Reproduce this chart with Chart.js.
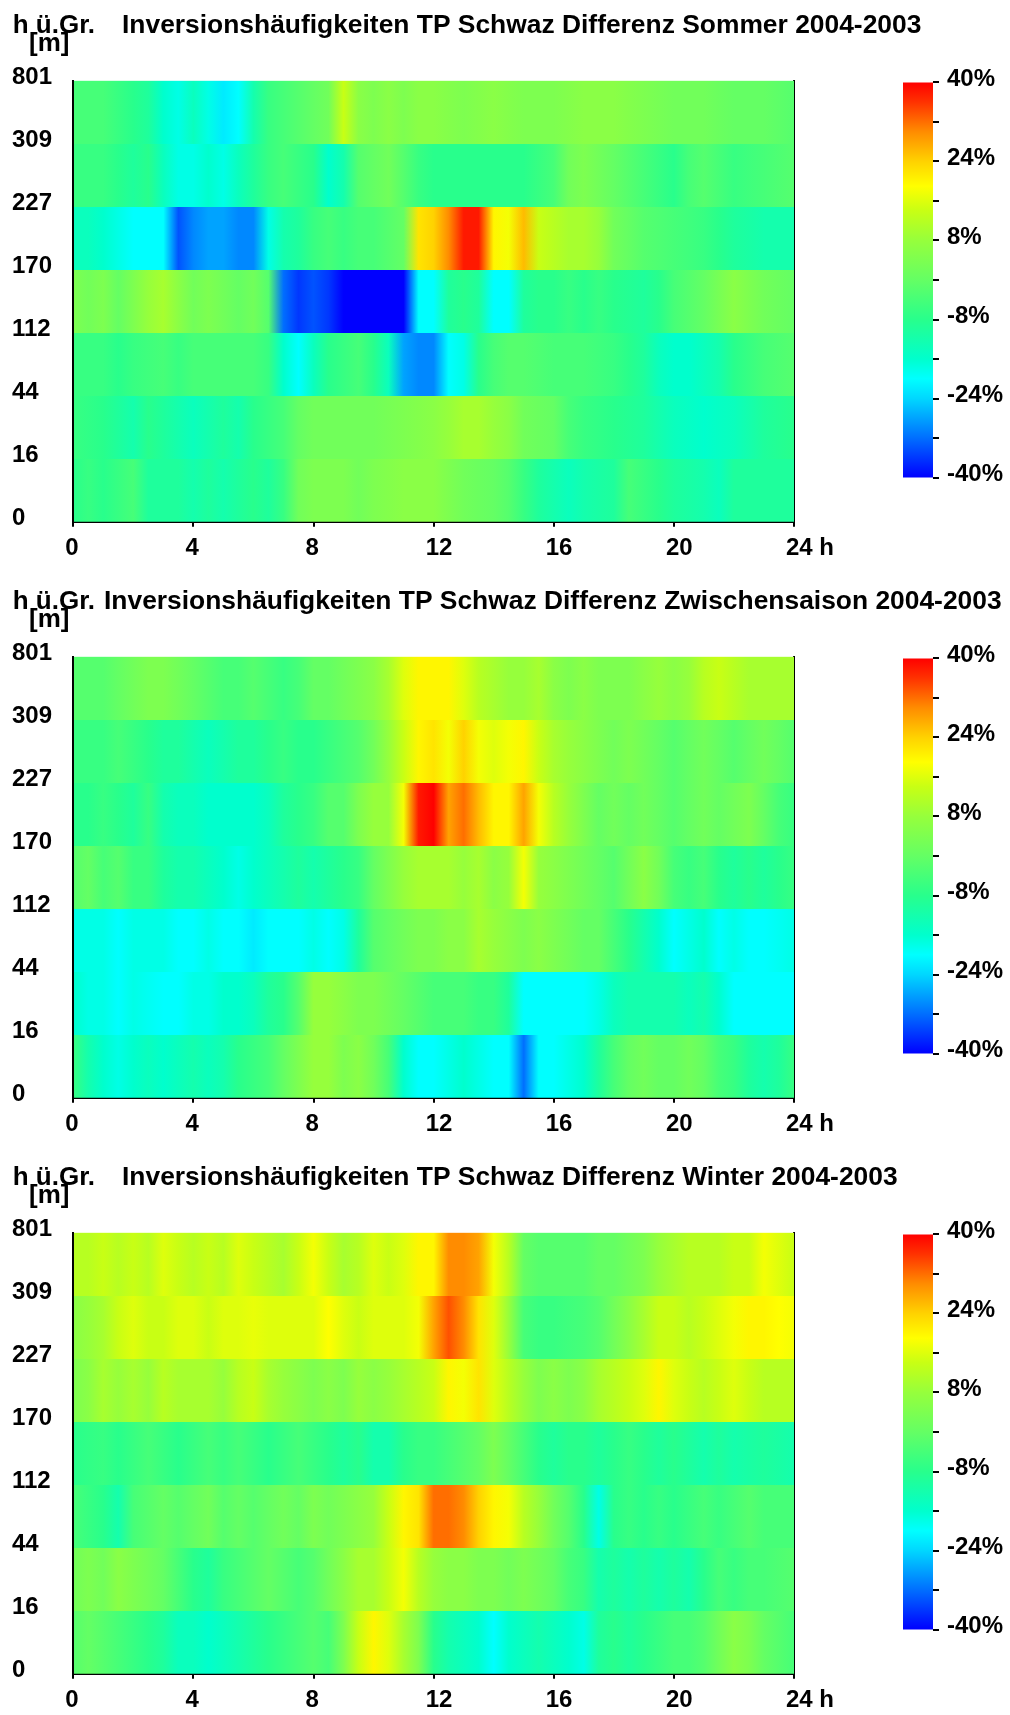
<!DOCTYPE html>
<html><head><meta charset="utf-8">
<script src="https://cdn.jsdelivr.net/npm/chart.js@4.4.1/dist/chart.umd.min.js"></script>
<style>
html,body{margin:0;padding:0;background:#fff;overflow:hidden;width:1010px;height:1715px;position:relative;}
.panel{position:absolute;left:0;width:1010px;height:576px;}
.panel canvas{position:absolute;}
</style></head><body>
<div class="panel" style="top:0px"><canvas id="h0" width="1010" height="576" style="left:0;top:0"></canvas><canvas id="c0" width="130" height="440" style="left:880px;top:60px"></canvas></div>
<div class="panel" style="top:576px"><canvas id="h1" width="1010" height="576" style="left:0;top:0"></canvas><canvas id="c1" width="130" height="440" style="left:880px;top:60px"></canvas></div>
<div class="panel" style="top:1152px"><canvas id="h2" width="1010" height="576" style="left:0;top:0"></canvas><canvas id="c2" width="130" height="440" style="left:880px;top:60px"></canvas></div>
<script>
// ---- time axis (hours) ----
const hours = [0,0.5,1,1.5,2,2.5,3,3.5,4,4.5,5,5.5,6,6.5,7,7.5,8,8.5,9,9.5,10,10.5,11,11.5,12,12.5,13,13.5,14,14.5,15,15.5,16,16.5,17,17.5,18,18.5,19,19.5,20,20.5,21,21.5,22,22.5,23,23.5,24];
// ---- height levels (tick labels) ----
const heightLabels = ['0','16','44','112','170','227','309','801'];
const scaleTicks = [40,24,8,-8,-24,-40];
const titles = ['Inversionshäufigkeiten TP Schwaz Differenz Sommer 2004-2003','Inversionshäufigkeiten TP Schwaz Differenz Zwischensaison 2004-2003','Inversionshäufigkeiten TP Schwaz Differenz Winter 2004-2003'];
const unitTop = 'h ü.Gr.';
const unitBottom = '[m]';

// ---- Sommer: difference in % per height band (0-16 ... 309-801) ----
const sommerH0 = [-8,-6,-8,-6,-4,-10,-10,-10,-12,-10, -12,-10,-8,-10,-6,2,4,4,4,2, 4,5,6,6,6,4,2,1,0,-2, -6,-10,-12,-14,-12,-11,-10,-4,-6,-8, -10,-11,-12,-14,-10,-10,-10,-10,-10];
const sommerH1 = [-6,-7,-8,-10,-12,-8,-10,-12,-14,-12, -10,-12,-8,-6,-4,0,2,2,2,2, 2,3,4,5,6,8,10,10,8,6, 2,1,0,-4,-6,-7,-8,-9,-10,-12, -14,-15,-16,-15,-14,-12,-10,-9,-8];
const sommerH2 = [-6,-6,-6,-8,-6,-5,-4,-6,-4,-4, -4,-4,-4,-6,-16,-20,-14,-8,-6,-4, -8,-14,-28,-30,-30,-20,-18,-8,-4,-2, -2,-3,-4,-4,-4,-5,-6,-8,-10,-14, -16,-16,-14,-12,-8,-6,-4,-3,-2];
const sommerH3 = [4,2,4,0,4,8,10,6,2,4, 2,0,2,-2,-32,-36,-34,-36,-40,-40, -40,-40,-40,-20,-20,-10,-8,-10,-20,-20, -10,-8,-8,-6,-8,-6,-8,-9,-10,-8, -4,-2,0,3,6,4,2,1,0];
const sommerH4 = [-14,-14,-16,-18,-20,-20,-20,-34,-30,-28, -28,-30,-30,-18,-12,-10,-6,-4,-6,-4, -4,-2,0,22,24,30,38,38,20,18, 26,14,12,10,10,8,2,0,-2,-3, -4,-5,-6,-8,-10,-11,-12,-12,-12];
const sommerH5 = [-6,-6,-6,-8,-10,-8,-14,-18,-18,-16, -18,-14,-10,-6,-4,-6,-8,-16,-12,-2, 0,2,-2,-6,-8,-8,-8,-8,-8,-8, -8,-6,-4,2,4,2,0,-2,-4,-6, -8,-4,-2,-4,-6,-5,-4,-3,-2];
const sommerH6 = [-4,-4,-4,-6,-8,-10,-16,-18,-14,-18, -22,-20,-12,-6,-4,-2,0,2,14,6, 4,6,4,6,6,5,4,5,6,5, 4,4,4,5,6,6,6,5,4,3, 2,2,2,1,0,0,0,-1,-2];

// ---- Zwischensaison ----
const zwischenH0 = [-6,-12,-16,-18,-16,-14,-16,-14,-12,-14, -12,-8,-6,-4,0,4,8,8,4,6, 2,-4,-16,-20,-20,-18,-16,-18,-20,-20, -32,-20,-20,-18,-16,-10,-4,0,2,0, 0,2,0,-4,-6,-10,-12,-10,-6];
const zwischenH1 = [-16,-18,-18,-20,-18,-19,-20,-20,-18,-18, -16,-16,-14,-10,-8,-2,8,8,6,4, 4,2,0,-2,-4,-4,-4,-6,-6,-10, -20,-20,-20,-20,-20,-18,-14,-12,-12,-12, -12,-14,-12,-16,-20,-20,-20,-20,-20];
const zwischenH2 = [-18,-18,-18,-20,-18,-18,-18,-20,-20,-18, -20,-20,-22,-20,-20,-20,-18,-20,-18,-10, -2,0,2,4,4,6,6,10,8,6, 4,6,4,2,0,0,-4,-8,-12,-16, -20,-18,-16,-20,-18,-20,-20,-19,-18];
const zwischenH3 = [-2,0,-4,-2,-6,-6,-10,-12,-12,-14, -16,-18,-16,-14,-12,-10,-12,-10,-8,-6, 0,4,8,10,10,10,8,10,6,8, 18,8,6,4,2,0,-2,2,6,2, -4,-6,-4,-8,-10,-8,-10,-8,-6];
const zwischenH4 = [-8,-8,-6,-8,-10,-6,-12,-14,-14,-16, -16,-16,-16,-14,-10,-8,-6,-2,-2,4, 8,8,18,38,40,28,32,26,20,20, 28,18,12,8,4,0,2,0,2,0, -2,0,2,0,2,4,0,-4,-6];
const zwischenH5 = [-6,-6,-6,-4,-6,-8,-10,-10,-12,-14, -12,-10,-10,-8,-6,-8,-8,-6,-4,-2, 2,8,14,20,22,18,24,18,16,18, 20,14,10,8,6,4,2,4,2,0, -2,0,2,0,-2,0,2,0,-2];
const zwischenH6 = [-2,-2,-2,0,2,4,4,2,0,-2, -4,-4,-2,-4,-6,-4,0,0,2,4, 6,10,16,20,20,20,16,12,10,8, 8,10,6,4,6,4,4,4,6,8, 6,8,12,14,12,10,10,10,10];

// ---- Winter ----
const winterH0 = [-2,0,-2,-4,-6,-8,-10,-14,-14,-16, -14,-12,-10,-8,-6,-4,-2,-4,4,14, 20,16,10,4,-8,-12,-14,-16,-20,-16, -14,-12,-14,-16,-18,-10,-8,-10,-8,-6, -4,-4,-2,2,6,4,0,-2,-4];
const winterH1 = [2,4,2,6,4,2,0,-4,-8,-10, -6,-4,-2,0,-2,-4,-2,2,6,10, 10,14,18,12,8,6,6,4,4,2, 4,2,0,-4,-6,-12,-10,-12,-10,-12, -10,-12,-8,-4,-6,-4,-4,-3,-2];
const winterH2 = [-4,-6,-8,-12,-4,-2,0,-2,0,2, -2,0,-2,0,2,0,4,2,4,6, 8,14,20,22,32,32,30,24,20,18, 12,8,2,-2,-8,-18,-8,-6,-8,-6, -8,-6,-4,-6,-4,-2,-4,-4,-4];
const winterH3 = [-8,-7,-6,-8,-6,-4,-6,-8,-6,-4, -6,-4,-6,-8,-6,-4,-6,-8,-10,-8, -12,-12,-8,-6,-6,-4,-2,0,4,0, -4,-8,-10,-8,-8,-10,-8,-6,-8,-10, -8,-10,-12,-10,-12,-11,-10,-11,-12];
const winterH4 = [4,6,10,8,10,8,12,10,10,10, 8,12,14,10,8,6,4,6,4,8, 6,8,10,12,14,20,18,22,16,12, 8,4,6,4,6,10,12,14,16,20, 16,14,12,14,16,14,12,12,12];
const winterH5 = [6,8,10,14,16,14,14,16,16,14, 16,16,17,16,16,16,16,19,16,14, 16,16,16,18,28,34,30,22,16,8, -4,-6,-6,-5,-4,-2,2,6,10,14, 14,12,14,16,18,20,20,19,18];
const winterH6 = [12,12,14,12,14,12,16,14,12,14, 12,16,14,12,10,14,18,14,10,12, 16,14,16,20,20,30,30,28,18,12, 0,-2,-2,-2,-2,0,0,2,4,8, 10,12,12,12,14,14,18,16,14];

const sommerRows = [sommerH0,sommerH1,sommerH2,sommerH3,sommerH4,sommerH5,sommerH6];
const zwischenRows = [zwischenH0,zwischenH1,zwischenH2,zwischenH3,zwischenH4,zwischenH5,zwischenH6];
const winterRows = [winterH0,winterH1,winterH2,winterH3,winterH4,winterH5,winterH6];

// ---- styles ----
const FONT = "'Liberation Sans', Arial, sans-serif";
const INK = '#000';
const colorStops = [
  [-40,[0,0,255]],[-32,[0,110,255]],[-24,[0,215,255]],[-20,[0,255,255]],[-16,[0,255,205]],
  [-8,[40,255,140]],[0,[100,255,100]],[8,[150,255,60]],[14,[200,255,20]],[19,[255,255,0]],
  [24,[255,210,0]],[30,[255,140,0]],[36,[255,50,0]],[40,[255,0,0]]
];
function colorFor(v){
  if (v <= colorStops[0][0]) return 'rgb('+colorStops[0][1].join(',')+')';
  for (let i=1;i<colorStops.length;i++){
    const [v1,c1] = colorStops[i];
    if (v <= v1){
      const [v0,c0] = colorStops[i-1];
      const f = (v-v0)/(v1-v0);
      const c = c0.map((a,k)=>Math.round(a+(c1[k]-a)*f));
      return 'rgb('+c.join(',')+')';
    }
  }
  return 'rgb('+colorStops[colorStops.length-1][1].join(',')+')';
}
function rowGradient(ctx, values){
  const chart = ctx.chart;
  if (!chart.chartArea) return colorFor(0);
  const xs = chart.scales.x;
  const x0 = xs.getPixelForValue(hours[0]);
  const x1 = xs.getPixelForValue(hours[hours.length-1]);
  const g = chart.ctx.createLinearGradient(x0,0,x1,0);
  hours.forEach((h,i)=>{
    const p = (xs.getPixelForValue(h)-x0)/(x1-x0);
    g.addColorStop(Math.min(1,Math.max(0,p)), colorFor(values[i]));
  });
  return g;
}
function barGradient(ctx){
  const chart = ctx.chart;
  if (!chart.chartArea) return colorFor(0);
  const ys = chart.scales.y;
  const y0 = ys.getPixelForValue(ys.min), y1 = ys.getPixelForValue(ys.max);
  const g = chart.ctx.createLinearGradient(0,y0,0,y1);
  colorStops.forEach(([v,c])=>{
    g.addColorStop((ys.getPixelForValue(v)-y0)/(y1-y0), 'rgb('+c.join(',')+')');
  });
  return g;
}
const headerPlugin = {
  id: 'header',
  afterDraw(chart, args, opts){
    const c = chart.ctx;
    c.save();
    c.fillStyle = INK;
    c.textAlign = 'left';
    c.textBaseline = 'alphabetic';
    c.font = 'bold 26.4px ' + FONT;
    c.fillText(opts.title, opts.titleX, 33);
    c.font = 'bold 26px ' + FONT;
    c.fillText(unitTop, 12.7, 33);
    c.fillText(unitBottom, 29, 51);
    c.restore();
  }
};
const tickFont = {family: FONT, size: 24, weight: 'bold'};

function heatChart(id, rows, title, titleX){
  return new Chart(document.getElementById(id), {
    type: 'bar',
    data: { datasets: [{
      data: rows.map((r,i)=>({y: i+0.5, x: [hours[0], hours[hours.length-1]]})),
      backgroundColor: (ctx)=>rowGradient(ctx, rows[ctx.dataIndex]),
      borderWidth: 0, barPercentage: 1, categoryPercentage: 1,
      xAxisID: 'x', yAxisID: 'y'
    }]},
    options: {
      indexAxis: 'y', responsive: false, animation: false,
      events: [],
      layout: { padding: { left: 12, top: 80.7, right: 216, bottom: 4.3 } },
      plugins: { legend: {display:false}, tooltip: {enabled:false}, header: {title, titleX} },
      scales: {
        x: { type:'linear', position:'bottom', min:0, max:24, z:1, offset:false,
             afterFit: s => { s.height = 50; },
             ticks: { stepSize:4, autoSkip:false, maxRotation:0, align:'start', labelOffset:-8, padding:7,
                      color: INK, font: tickFont, callback: v => v === 24 ? '24 h' : String(v) },
             grid: { display:true, drawOnChartArea:false, drawTicks:true, tickLength:5, color:INK, lineWidth:2, offset:false },
             border: { display:true, color:INK, width:2 } },
        y: { type:'linear', position:'left', min:0, max:7, z:1, offset:false,
             afterFit: s => { s.width = 61.3; },
             ticks: { stepSize:1, autoSkip:false, crossAlign:'far', labelOffset:-3, color: INK, font: tickFont,
                      callback: v => heightLabels[v] },
             grid: { display:false, offset:false },
             border: { display:true, color:INK, width:2 } },
        yr: { type:'linear', position:'right', min:0, max:7, z:1, offset:false,
              afterFit: s => { s.width = 0; },
              ticks: { display:false }, grid: { display:false, drawTicks:false, offset:false },
              border: { display:true, color:INK, width:2 } }
      }
    },
    plugins: [headerPlugin]
  });
}
function colorBarChart(id){
  return new Chart(document.getElementById(id), {
    type: 'bar',
    data: { labels: ['%'], datasets: [{ data: [[scaleTicks[scaleTicks.length-1], scaleTicks[0]]],
      backgroundColor: barGradient, borderWidth: 0, barPercentage: 1, categoryPercentage: 1 }]},
    options: {
      responsive: false, animation: false, events: [],
      layout: { padding: { left: 23, top: 20.7, right: 0, bottom: 17 } },
      plugins: { legend: {display:false}, tooltip: {enabled:false} },
      scales: {
        x: { display: false },
        y: { type:'linear', position:'right', min:-40, max:40,
             afterFit: s => { s.width = 77; },
             ticks: { stepSize:8, autoSkip:false, padding:8, labelOffset:-3, color: INK, font: tickFont,
                      callback: v => scaleTicks.includes(v) ? v + '%' : '' },
             grid: { display:true, drawOnChartArea:false, drawTicks:true, tickLength:6, color:INK, lineWidth:2 },
             border: { display:false } }
      }
    }
  });
}
heatChart('h0', sommerRows, titles[0], 122);
heatChart('h1', zwischenRows, titles[1], 104);
heatChart('h2', winterRows, titles[2], 122);
colorBarChart('c0'); colorBarChart('c1'); colorBarChart('c2');
</script>
</body></html>
